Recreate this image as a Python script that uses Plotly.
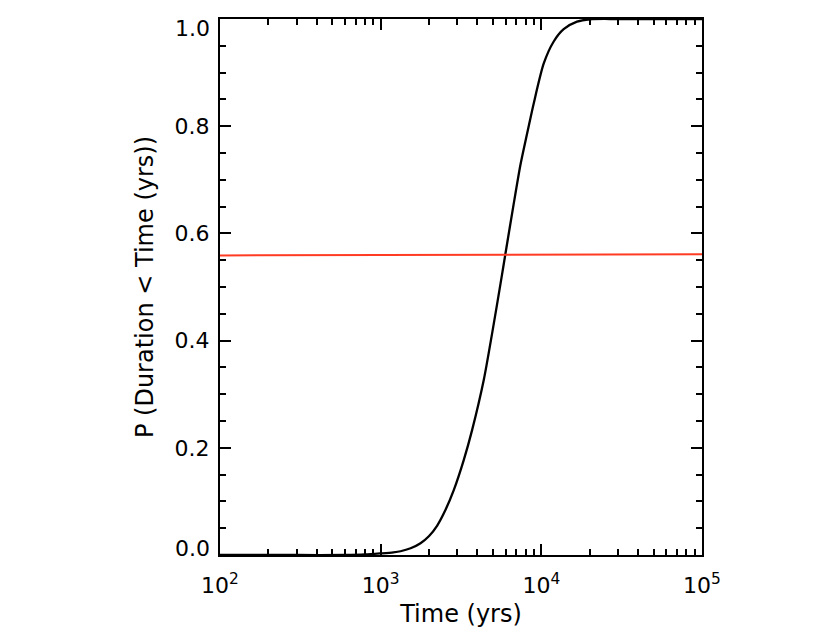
import plotly.graph_objects as go

# Cumulative probability curve
time_yrs = [100, 300, 600, 800, 1000, 1200, 1330, 1535, 1770, 1995, 2249, 2512, 2851, 3289,
            3707, 4385, 4943, 5649, 5970, 6730, 7413, 7962, 8260, 8974, 10351,
            11940, 13772, 16672, 20137, 30000, 100000]
prob = [0.0, 0.0, 0.0, 0.001, 0.003, 0.005, 0.007, 0.0125, 0.022, 0.035, 0.055, 0.082, 0.121, 0.177,
        0.233, 0.327, 0.414, 0.517, 0.561, 0.655, 0.728, 0.772, 0.794, 0.843, 0.917,
        0.958, 0.981, 0.995, 0.9995, 1.0, 1.0]

# Horizontal reference line
ref_time = [100, 100000]
ref_prob = [0.559, 0.561]

x_tickvals = [100, 1000, 10000, 100000]
x_ticktext = ["10<sup>2</sup>", "10<sup>3</sup>", "10<sup>4</sup>", "10<sup>5</sup>"]
y_tickvals = [0.2, 0.4, 0.6, 0.8]
y_ticktext = ["0.2", "0.4", "0.6", "0.8"]
y_end_vals = [0.0, 1.0]
y_end_text = ["0.0", "1.0"]
y_end_shift = [7, -9]

FONT = "DejaVu Sans"

fig = go.Figure()
fig.add_trace(go.Scatter(x=time_yrs, y=prob, mode="lines",
                         line=dict(color="black", width=2.3, shape="spline", smoothing=0.7),
                         showlegend=False))
fig.add_trace(go.Scatter(x=ref_time, y=ref_prob, mode="lines",
                         line=dict(color="rgb(255,60,35)", width=2),
                         showlegend=False))

for v, t, s in zip(y_end_vals, y_end_text, y_end_shift):
    fig.add_annotation(x=0, xref="paper", y=v, yref="y", text=t, showarrow=False,
                       xanchor="right", yanchor="middle", xshift=-8, yshift=s,
                       font=dict(family=FONT, size=22, color="black"))

fig.update_layout(
    width=830, height=642,
    margin=dict(l=212, r=136, t=11, b=95, autoexpand=False),
    paper_bgcolor="white", plot_bgcolor="white",
    font=dict(family=FONT, size=22, color="black"),
)
fig.update_xaxes(
    type="log", range=[2, 5], automargin=False,
    tickvals=x_tickvals, ticktext=x_ticktext,
    ticks="inside", ticklen=11, tickwidth=2, tickcolor="black",
    showline=True, linewidth=2, linecolor="black", mirror="allticks",
    showgrid=False, zeroline=False,
    minor=dict(ticks="inside", ticklen=6, tickwidth=2, tickcolor="black", dtick="D1", showgrid=False),
    tickfont=dict(family=FONT, size=22),
    ticklabelstandoff=10,
    title=dict(text="Time (yrs)", font=dict(family=FONT, size=24), standoff=8),
)
fig.update_yaxes(
    range=[0, 1.0], automargin=False,
    tickvals=y_tickvals, ticktext=y_ticktext,
    ticks="inside", ticklen=11, tickwidth=2, tickcolor="black",
    showline=True, linewidth=2, linecolor="black", mirror="allticks",
    showgrid=False, zeroline=False,
    minor=dict(ticks="inside", ticklen=6, tickwidth=2, tickcolor="black", dtick=0.05, showgrid=False),
    tickfont=dict(family=FONT, size=22),
    ticklabelstandoff=4,
    title=dict(text="P (Duration < Time (yrs))", font=dict(family=FONT, size=24), standoff=14),
)

fig.write_html("out.html")
